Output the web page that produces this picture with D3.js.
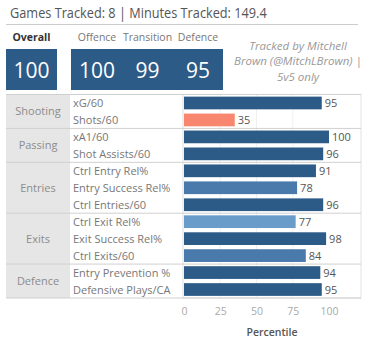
<!DOCTYPE html>
<html><head><meta charset="utf-8">
<script src="https://cdn.jsdelivr.net/npm/d3@7"></script>
<style>
html,body{margin:0;padding:0;background:#fff;}
svg{display:block;font-family:"Open Sans",sans-serif;}
</style></head>
<body><svg id="c" width="372" height="343"></svg>
<script>
const title = "Games Tracked: 8 | Minutes Tracked: 149.4";
const summaryLabels = ["Offence", "Transition", "Defence"];
const summaryValues = [100, 99, 95];
const overallLabel = "Overall";
const overallValue = 100;
const creditLines = ["Tracked by Mitchell", "Brown (@MitchLBrown) |", "5v5 only"];
const groups = ["Shooting", "Shooting", "Passing", "Passing", "Entries", "Entries", "Entries", "Exits", "Exits", "Exits", "Defence", "Defence"];
const metrics = ["xG/60", "Shots/60", "xA1/60", "Shot Assists/60", "Ctrl Entry Rel%", "Entry Success Rel%", "Ctrl Entries/60", "Ctrl Exit Rel%", "Exit Success Rel%", "Ctrl Exits/60", "Entry Prevention %", "Defensive Plays/CA"];
const values = [95, 35, 100, 96, 91, 78, 96, 77, 98, 84, 94, 95];
const ticks = [0, 25, 50, 75, 100];
const axisTitle = "Percentile";

const svg = d3.select("#c");
const blue = "#2d5b88";

// title (horizontally fitted to the reference width)
const titleG = svg.append("g");
const titleT = titleG.append("text").attr("x", 0).attr("y", 0).attr("font-size", 15).attr("fill", "#555").text(title);
const tw = titleT.node().getComputedTextLength() || 257;
titleG.attr("transform", `translate(10,18) scale(${257 / tw},1)`);
svg.append("line").attr("x1", 6).attr("x2", 358).attr("y1", 24.5).attr("y2", 24.5).attr("stroke", "#ccc");

// summary boxes
svg.append("text").attr("x", 31.5).attr("y", 41).attr("text-anchor", "middle").attr("font-size", 10.5).attr("font-weight", "bold").attr("fill", "#333").text(overallLabel);
svg.append("rect").attr("x", 6).attr("y", 49).attr("width", 51).attr("height", 41).attr("fill", blue);
svg.append("text").attr("x", 31.5).attr("y", 78).attr("text-anchor", "middle").attr("font-size", 21).attr("fill", "#fff").text(overallValue);

const sx = d3.scalePoint().domain(summaryLabels).range([97, 198]);
svg.append("rect").attr("x", 71).attr("y", 49).attr("width", 152).attr("height", 41).attr("fill", blue);
svg.selectAll(".sl").data(summaryLabels).join("text")
  .attr("x", d => sx(d)).attr("y", 40.5).attr("text-anchor", "middle")
  .attr("font-size", 10.5).attr("fill", "#777").text(d => d);
svg.selectAll(".sv").data(summaryValues).join("text")
  .attr("x", (d, i) => sx(summaryLabels[i])).attr("y", 78).attr("text-anchor", "middle")
  .attr("font-size", 21).attr("fill", "#fff").text(d => d);

svg.selectAll(".cr").data(creditLines).join("text")
  .attr("x", 298).attr("y", (d, i) => 50 + i * 15.3).attr("text-anchor", "middle")
  .attr("font-size", 11.5).attr("font-style", "italic").attr("fill", "#999").text(d => d);

// table
const tTop = 94.5, tBottom = 298;
const y = d3.scaleBand().domain(d3.range(metrics.length)).range([tTop, tBottom]).paddingInner(0.25).paddingOuter(0.125);
const x = d3.scaleLinear().domain([0, 100]).range([184, 329]);
const color = d3.scaleThreshold().domain([50, 78, 90]).range(["#f9866f", "#6a9cc9", "#4a7aab", "#2d5b88"]);
const rowH = (tBottom - tTop) / metrics.length;
const rowTop = i => tTop + i * rowH;

svg.append("rect").attr("x", 6).attr("y", tTop).attr("width", 64).attr("height", tBottom - tTop).attr("fill", "#e6e6e6");
svg.append("rect").attr("x", 183).attr("y", tTop).attr("width", 178).attr("height", tBottom - tTop).attr("fill", "none").attr("stroke", "#e2e2e2");

// gridlines
svg.selectAll(".g").data(ticks.slice(1, -1)).join("line")
  .attr("x1", d => x(d)).attr("x2", d => x(d)).attr("y1", tTop).attr("y2", tBottom)
  .attr("stroke", "#f0f0f0");

// group blocks
const groupNames = Array.from(new Set(groups));
const groupInfo = groupNames.map(g => {
  const idx = groups.map((v, i) => v === g ? i : -1).filter(i => i >= 0);
  return {name: g, start: idx[0], end: idx[idx.length - 1] + 1};
});
svg.selectAll(".sep").data(groupInfo.slice(1)).join("line")
  .attr("x1", 6).attr("x2", 361).attr("y1", d => rowTop(d.start)).attr("y2", d => rowTop(d.start))
  .attr("stroke", "#d0d0d0");
svg.append("line").attr("x1", 6).attr("x2", 361).attr("y1", tTop).attr("y2", tTop).attr("stroke", "#d0d0d0");
svg.append("line").attr("x1", 6).attr("x2", 361).attr("y1", tBottom).attr("y2", tBottom).attr("stroke", "#d0d0d0");

svg.selectAll(".gn").data(groupInfo).join("text")
  .attr("x", 38).attr("y", d => (rowTop(d.start) + rowTop(d.end)) / 2 + 4)
  .attr("text-anchor", "middle").attr("font-size", 11).attr("fill", "#8c8c8c").text(d => d.name);

svg.selectAll(".ml").data(metrics).join("text")
  .attr("x", 73).attr("y", (d, i) => rowTop(i) + rowH / 2 + 4)
  .attr("font-size", 11).attr("fill", "#777").text(d => d);

svg.selectAll(".bar").data(values).join("rect")
  .attr("x", x(0)).attr("y", (d, i) => y(i)).attr("width", d => x(d) - x(0)).attr("height", y.bandwidth())
  .attr("fill", d => color(d));

svg.selectAll(".vl").data(values).join("text")
  .attr("x", d => x(d) + 3).attr("y", (d, i) => y(i) + y.bandwidth() / 2 + 4)
  .attr("font-size", 11).attr("fill", "#555").text(d => d);

// axis
const ax = svg.append("g").attr("transform", `translate(0,${tBottom})`)
  .call(d3.axisBottom(x).tickValues(ticks).tickSize(0).tickPadding(10));
ax.select(".domain").remove();
ax.selectAll("text").attr("font-size", 10.5).attr("fill", "#aaa").attr("font-family", "Open Sans");

svg.append("text").attr("x", 272).attr("y", 336).attr("text-anchor", "middle")
  .attr("font-size", 10.5).attr("fill", "#555").attr("font-weight", 600).text(axisTitle);
</script></body></html>
